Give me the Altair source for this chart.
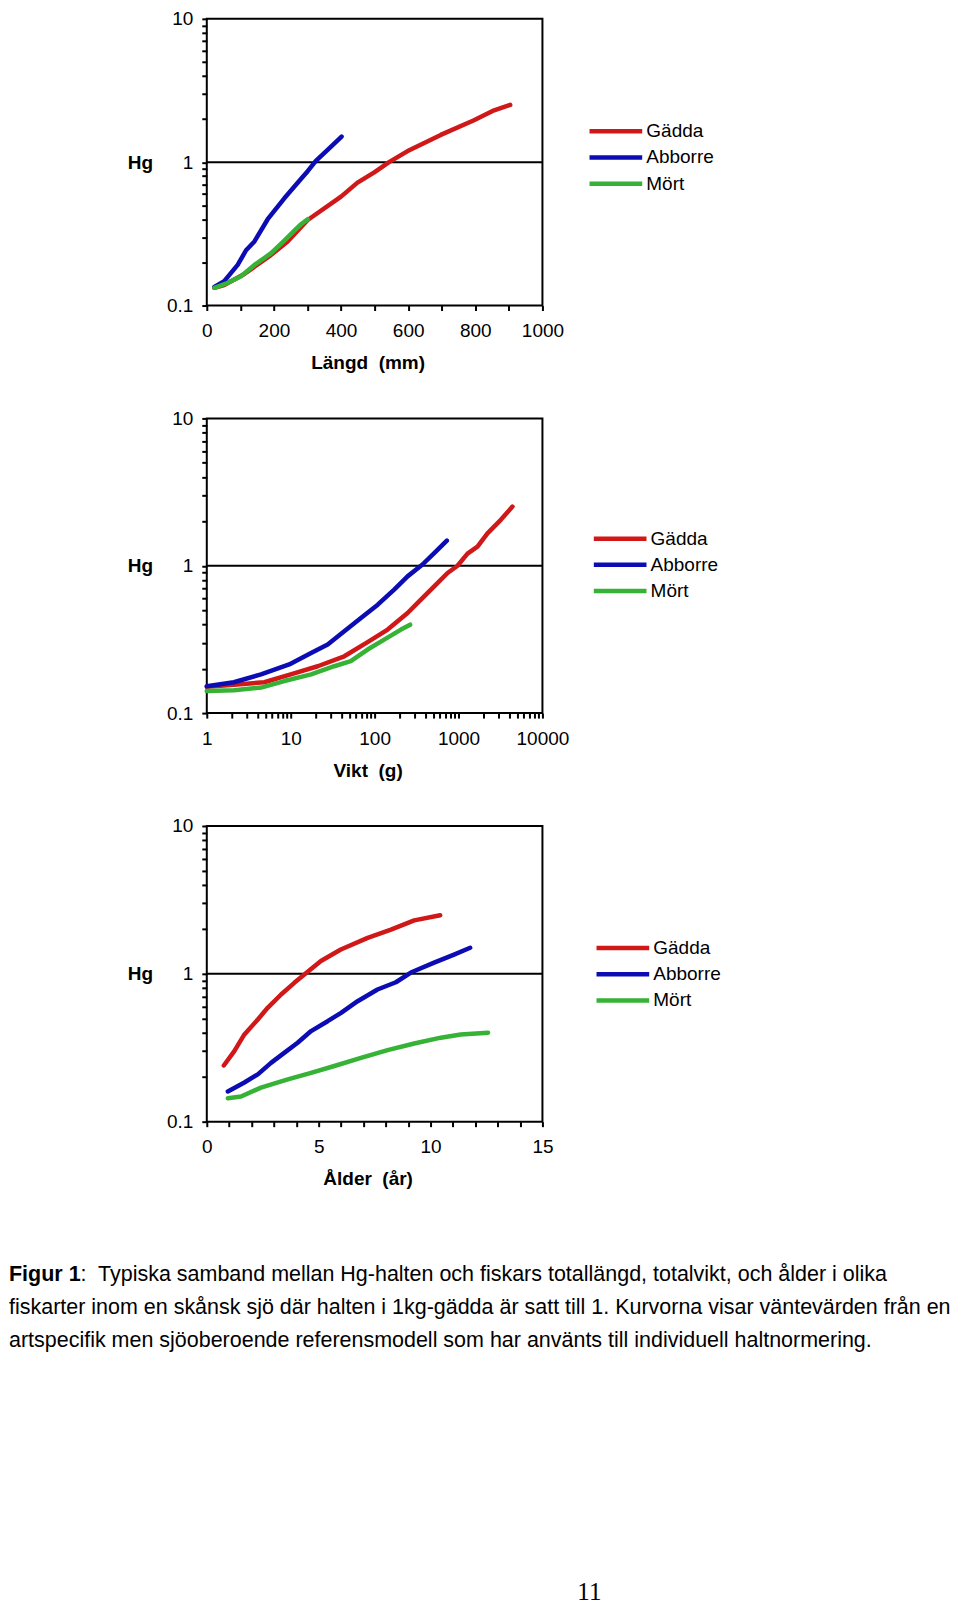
import altair as alt
import pandas as pd

SPECIES = ["Gädda", "Abborre", "Mört"]
COLORS = ["#D01818", "#0C0CB4", "#36B236"]
FONT = "Liberation Sans"

# ---------------- Panel 1: Längd (mm) ----------------
p1_gadda_x = [22.6, 52, 112, 191, 241, 300.6, 400, 449, 499, 543, 597, 697, 796, 856, 904]
p1_gadda_hg = [0.133, 0.139, 0.166, 0.225, 0.280, 0.395, 0.575, 0.72, 0.85, 1.0, 1.19, 1.55, 1.96, 2.30, 2.51]
p1_abborre_x = [22.6, 52, 92, 117, 142, 181.5, 231, 281, 300.6, 325, 360, 401.6]
p1_abborre_hg = [0.135, 0.148, 0.192, 0.243, 0.28, 0.40, 0.56, 0.766, 0.865, 1.02, 1.22, 1.51]
p1_mort_x = [22.6, 62.5, 102, 142, 191, 231, 261, 281, 300.6]
p1_mort_hg = [0.133, 0.144, 0.16, 0.192, 0.231, 0.284, 0.333, 0.369, 0.40]

# ---------------- Panel 2: Vikt (g) ----------------
p2_gadda_x = [1, 2.1, 4.85, 10, 21, 43.5, 82.5, 143, 247, 356, 513, 740, 973, 1280, 1683, 2213, 3190, 4395]
p2_gadda_hg = [0.151, 0.156, 0.162, 0.183, 0.208, 0.243, 0.303, 0.369, 0.478, 0.589, 0.724, 0.893, 1.0, 1.21, 1.35, 1.66, 2.05, 2.52]
p2_abborre_x = [1, 2.1, 4.43, 9.6, 17.5, 27.6, 43.5, 68.7, 109, 171, 247, 372, 513, 726]
p2_abborre_hg = [0.152, 0.162, 0.183, 0.214, 0.256, 0.292, 0.359, 0.442, 0.544, 0.689, 0.847, 1.02, 1.22, 1.48]
p2_mort_x = [1, 2.1, 4.43, 8.4, 17.5, 33, 52, 82.5, 130, 206, 265]
p2_mort_hg = [0.141, 0.143, 0.149, 0.165, 0.183, 0.208, 0.225, 0.27, 0.315, 0.369, 0.398]

# ---------------- Panel 3: Ålder (år) ----------------
p3_gadda_x = [0.76, 1.23, 1.68, 2.28, 2.72, 3.32, 3.91, 4.36, 5.10, 5.99, 7.19, 8.23, 9.27, 10.43]
p3_gadda_hg = [0.240, 0.30, 0.389, 0.491, 0.589, 0.725, 0.869, 0.989, 1.22, 1.46, 1.75, 1.99, 2.30, 2.49]
p3_abborre_x = [0.94, 1.68, 2.28, 2.87, 3.46, 4.06, 4.66, 5.40, 6.0, 6.74, 7.63, 8.45, 9.12, 10.16, 11.05, 11.77]
p3_abborre_hg = [0.160, 0.184, 0.209, 0.25, 0.292, 0.342, 0.41, 0.478, 0.545, 0.653, 0.783, 0.877, 1.02, 1.19, 1.35, 1.50]
p3_mort_x = [0.94, 1.53, 2.42, 3.62, 4.66, 5.70, 6.89, 8.08, 9.27, 10.46, 11.35, 12.57]
p3_mort_hg = [0.144, 0.148, 0.170, 0.193, 0.214, 0.238, 0.27, 0.305, 0.338, 0.37, 0.389, 0.40]

# ---------------- Ticks and labels ----------------
Y_TICKS = [0.1, 0.2, 0.3, 0.4, 0.5, 0.6, 0.7, 0.8, 0.9, 1, 2, 3, 4, 5, 6, 7, 8, 9, 10]
Y_LABELS = ["0.1", "1", "10"]
X1_TICKS = [0, 100, 200, 300, 400, 500, 600, 700, 800, 900, 1000]
X1_LABELS = [0, 200, 400, 600, 800, 1000]
X2_TICKS = [1, 2, 3, 4, 5, 6, 7, 8, 9, 10, 20, 30, 40, 50, 60, 70, 80, 90,
            100, 200, 300, 400, 500, 600, 700, 800, 900,
            1000, 2000, 3000, 4000, 5000, 6000, 7000, 8000, 9000, 10000]
X2_LABELS = [1, 10, 100, 1000, 10000]
X3_TICKS = [0, 1, 2, 3, 4, 5, 6, 7, 8, 9, 10, 11, 12, 13, 14, 15]
X3_LABELS = [0, 5, 10, 15]

X_TITLES = ["Längd\u00a0 (mm)", "Vikt\u00a0 (g)", "Ålder\u00a0 (år)"]
Y_TITLE = "Hg"

CAPTION_BOLD = "Figur 1"
CAPTION_LINES = [
    ":\u00a0 Typiska samband mellan Hg-halten och fiskars totallängd, totalvikt, och ålder i olika",
    "fiskarter inom en skånsk sjö där halten i 1kg-gädda är satt till 1. Kurvorna visar väntevärden från en",
    "artspecifik men sjöoberoende referensmodell som har använts till individuell haltnormering.",
]
PAGE_NUMBER = "11"

W = 336
CAP_SIZE = 21.5


def make_df(series):
    rows = []
    for name, xs, ys in series:
        for i, (xv, yv) in enumerate(zip(xs, ys)):
            rows.append({"x": xv, "hg": yv, "art": name, "i": i})
    return pd.DataFrame(rows)


def y_label_expr():
    parts = [f"datum.value == {v} ? '{v}'" for v in Y_LABELS]
    return " : ".join(parts) + " : ''"


def panel(df, xtitle, xscale, xticks, xlabels, height, legx, legy, extra=None):
    xlab_expr = "indexof([%s], datum.value) >= 0 ? format(datum.value, 'd') : ''" % ",".join(str(v) for v in xlabels)
    x_axis = alt.Axis(values=xticks, labelExpr=xlab_expr, tickSize=5, tickWidth=2, tickColor="black",
                      labelPadding=11, labelFontSize=19, labelFont=FONT, labelColor="black",
                      labelFlush=False, labelOverlap=False, labelBound=False,
                      domain=False, grid=False, title=xtitle, titleX=161, titleY=57,
                      titleAlign="center", titleBaseline="middle", titleFontSize=19,
                      titleFontWeight="bold", titleFont=FONT, titleColor="black")
    y_axis = alt.Axis(values=Y_TICKS, labelExpr=y_label_expr(), tickSize=5, tickWidth=2, tickColor="black",
                      labelPadding=9, labelFontSize=19, labelFont=FONT, labelColor="black",
                      labelFlush=False, labelOverlap=False, labelBound=False,
                      domain=False, grid=False, title=Y_TITLE, titleAngle=0, titleX=-67,
                      titleY=height / 2, titleAlign="center", titleBaseline="middle",
                      titleFontSize=19, titleFontWeight="bold", titleFont=FONT, titleColor="black")
    yscale = alt.Scale(type="log", domain=[0.1, 10], nice=False)

    rule = alt.Chart(pd.DataFrame({"hg": [1]})).mark_rule(color="black", strokeWidth=2).encode(
        y=alt.Y("hg:Q", scale=yscale, axis=y_axis)
    )
    lines = alt.Chart(df).mark_line(strokeWidth=4.5, strokeCap="round", strokeJoin="round").encode(
        x=alt.X("x:Q", scale=xscale, axis=x_axis),
        y=alt.Y("hg:Q", scale=yscale, axis=y_axis),
        color=alt.Color("art:N", scale=alt.Scale(domain=SPECIES, range=COLORS),
                        legend=alt.Legend(title=None, orient="none", legendX=legx, legendY=legy,
                                          direction="vertical", symbolType="M-2.5,0H2.5",
                                          symbolSize=445, symbolStrokeWidth=4.5,
                                          labelFontSize=19, labelFont=FONT, labelColor="black",
                                          labelOffset=17.5, rowPadding=3.2, padding=0)),
        order="i:Q",
    )
    layers = [rule, lines] + (extra or [])
    return alt.layer(*layers).properties(width=W, height=height)


def text_layer(txt, x, y, size, weight="normal", font=FONT, align="left"):
    return alt.Chart(pd.DataFrame({"t": [txt]})).mark_text(
        align=align, baseline="alphabetic", font=font, fontSize=size, fontWeight=weight, color="black"
    ).encode(text="t:N", x=alt.value(x), y=alt.value(y))


df1 = make_df([("Gädda", p1_gadda_x, p1_gadda_hg), ("Abborre", p1_abborre_x, p1_abborre_hg),
               ("Mört", p1_mort_x, p1_mort_hg)])
df2 = make_df([("Gädda", p2_gadda_x, p2_gadda_hg), ("Abborre", p2_abborre_x, p2_abborre_hg),
               ("Mört", p2_mort_x, p2_mort_hg)])
df3 = make_df([("Gädda", p3_gadda_x, p3_gadda_hg), ("Abborre", p3_abborre_x, p3_abborre_hg),
               ("Mört", p3_mort_x, p3_mort_hg)])

caption = [
    text_layer(CAPTION_BOLD, -198, 455.8, CAP_SIZE, weight="bold"),
    text_layer(CAPTION_LINES[0], -198 + 3.334 * CAP_SIZE, 455.8, CAP_SIZE),
    text_layer(CAPTION_LINES[1], -198, 488.8, CAP_SIZE),
    text_layer(CAPTION_LINES[2], -198, 521.8, CAP_SIZE),
    text_layer(PAGE_NUMBER, 383, 774.5, 25, font="Liberation Serif", align="center"),
]

p1 = panel(df1, X_TITLES[0], alt.Scale(domain=[0, 1000], nice=False, zero=False), X1_TICKS, X1_LABELS,
           287, 396.5, 99.6)
p2 = panel(df2, X_TITLES[1], alt.Scale(type="log", domain=[1, 10000], nice=False), X2_TICKS, X2_LABELS,
           295, 400.8, 107.4)
p3 = panel(df3, X_TITLES[2], alt.Scale(domain=[0, 15], nice=False, zero=False), X3_TICKS, X3_LABELS,
           296, 403.5, 109.2, extra=caption)

chart = alt.vconcat(p1, p2, p3, spacing=113, bounds="flush").resolve_scale(
    x="independent", y="independent", color="independent"
).properties(
    padding={"left": 0, "top": 0, "right": 0, "bottom": 0}, background="white"
).configure_view(stroke="black", strokeWidth=2)

chart.save("out.html", embed_options={"renderer": "svg", "actions": False})
